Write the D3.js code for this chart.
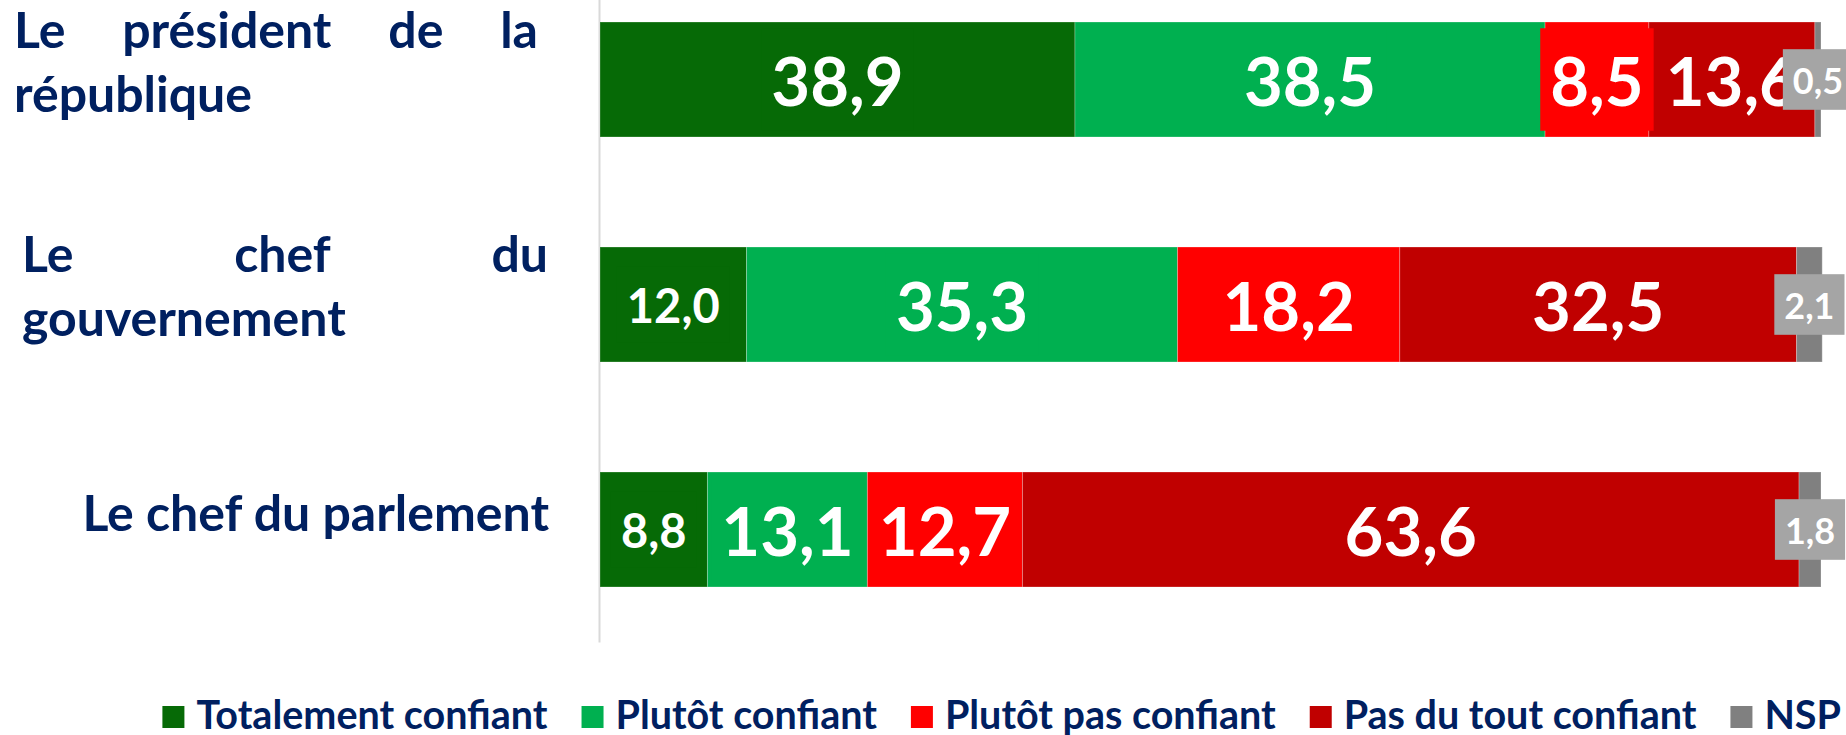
<!DOCTYPE html>
<html>
<head>
<meta charset="utf-8">
<script src="https://cdn.jsdelivr.net/npm/d3@7"></script>
<style>
  body { margin: 0; background: #fff; }
  svg { display: block; font-family: Lato, "Noto Sans", sans-serif; font-weight: bold; }
</style>
</head>
<body>
<svg id="chart" width="1846" height="735"></svg>
<script>
// data
const categories = ["Le président de la république", "Le chef du gouvernement", "Le chef du parlement"];
const seriesNames = ["Totalement confiant", "Plutôt confiant", "Plutôt pas confiant", "Pas du tout confiant", "NSP"];
const totalementConfiant = [38.9, 12.0, 8.8];
const plutotConfiant = [38.5, 35.3, 13.1];
const plutotPasConfiant = [8.5, 18.2, 12.7];
const pasDuToutConfiant = [13.6, 32.5, 63.6];
const nsp = [0.5, 2.1, 1.8];

const colors = ["#066a06", "#00b050", "#ff0000", "#c00000", "#808080"];
const navy = "#002060";

const svg = d3.select("#chart");

// build rows for d3.stack
const seriesValues = [totalementConfiant, plutotConfiant, plutotPasConfiant, pasDuToutConfiant, nsp];
const rows = categories.map((c, i) => {
  const row = { category: c };
  seriesNames.forEach((s, j) => { row[s] = seriesValues[j][i]; });
  return row;
});
const stacked = d3.stack().keys(seriesNames)(rows);

const x = d3.scaleLinear().domain([0, 100]).range([600, 1821]);
const y = d3.scaleBand()
  .domain(categories)
  .range([-33, 642])
  .paddingInner(0.489)
  .paddingOuter(0.2445);

const color = d3.scaleOrdinal().domain(seriesNames).range(colors);

// vertical category axis line
const axisG = svg.append("g")
  .attr("transform", `translate(${x(0) - 1},0)`)
  .call(d3.axisLeft(y).tickSize(0).tickFormat(""));
axisG.select(".domain").attr("stroke", "#d9d9d9").attr("stroke-width", 2);

// bar segments
svg.append("g")
  .selectAll("g")
  .data(stacked)
  .join("g")
  .attr("fill", d => color(d.key))
  .selectAll("rect")
  .data(d => d)
  .join("rect")
  .attr("x", d => x(d[0]))
  .attr("y", d => y(d.data.category))
  .attr("width", d => x(d[1]) - x(d[0]))
  .attr("height", y.bandwidth())
  .attr("stroke", "#ffffff")
  .attr("stroke-opacity", 0.25)
  .attr("stroke-width", 1);

// value labels (boxed, same colour as the segment)
const fmt = v => d3.format(".1f")(v).replace(".", ",");
const labelSize = (j, i) => (j === 4 ? 36 : (j === 0 && i > 0 ? 47 : 67));

const labelsG = svg.append("g");
categories.forEach((cat, i) => {
  stacked.forEach((layer, j) => {
    const d = layer[i];
    const fs = labelSize(j, i);
    const cx = (x(d[0]) + x(d[1])) / 2;
    const cy = y(cat) + y.bandwidth() / 2;
    const g = labelsG.append("g");
    const box = g.append("rect").attr("fill", j === 4 ? "#a5a5a5" : colors[j]);
    const t = g.append("text")
      .attr("x", cx)
      .attr("y", cy + fs * 0.36 + 2)
      .attr("text-anchor", "middle")
      .attr("fill", "#ffffff")
      .attr("font-size", fs + "px")
      .text(fmt(d[1] - d[0]));
    const tw = t.node().getComputedTextLength();
    const bh = fs * 1.35 + 12;
    box.attr("x", cx - tw / 2 - 10)
      .attr("y", cy - bh / 2)
      .attr("width", tw + 20)
      .attr("height", bh);
  });
});

// category labels, justified like the original text boxes
const catFont = 50;
const lineHeight = 64;
const catLayout = [
  { left: 14, right: 538, align: "justify", first: -32 },
  { left: 22, right: 548, align: "justify", first: -33 },
  { left: 22, right: 549, align: "right", first: 1 }
];

const measurer = svg.append("text").attr("font-size", catFont + "px");
const measure = s => measurer.text(s).node().getComputedTextLength();

const catG = svg.append("g").attr("fill", navy).attr("font-size", catFont + "px");
categories.forEach((cat, i) => {
  const lay = catLayout[i];
  const maxW = lay.right - lay.left;
  const words = cat.split(" ");
  const lines = [];
  let cur = [];
  words.forEach(w => {
    const test = cur.concat([w]).join(" ");
    if (cur.length && measure(test) > maxW) {
      lines.push(cur);
      cur = [w];
    } else {
      cur.push(w);
    }
  });
  lines.push(cur);

  const cy = y(cat) + y.bandwidth() / 2;
  lines.forEach((ws, li) => {
    const by = cy + lay.first + li * lineHeight;
    const last = li === lines.length - 1;
    if (lay.align === "justify" && !last && ws.length > 1) {
      const widths = ws.map(measure);
      const gap = (maxW - d3.sum(widths)) / (ws.length - 1);
      let cx = lay.left;
      ws.forEach((w, k) => {
        catG.append("text").attr("x", cx).attr("y", by).text(w);
        cx += widths[k] + gap;
      });
    } else if (lay.align === "right") {
      catG.append("text").attr("x", lay.right).attr("y", by)
        .attr("text-anchor", "end").text(ws.join(" "));
    } else {
      catG.append("text").attr("x", lay.left).attr("y", by).text(ws.join(" "));
    }
  });
});
measurer.remove();

// legend, right edge lined up with the end of "NSP" in the original
const legendFont = 39.5;
const sq = 22;
const legendRight = 1841;
const legendG = svg.append("g").attr("font-size", legendFont + "px");
const items = legendG.selectAll("g")
  .data(seriesNames)
  .join("g");
items.append("rect")
  .attr("width", sq)
  .attr("height", sq)
  .attr("y", 706)
  .attr("fill", d => color(d));
items.append("text")
  .attr("x", sq + 12)
  .attr("y", 729)
  .attr("fill", navy)
  .text(d => d);

let lx = 0;
const offsets = [];
items.each(function () {
  const tw = d3.select(this).select("text").node().getComputedTextLength();
  offsets.push(lx);
  lx += sq + 12 + tw + 34;
});
const totalW = lx - 34;
const startX = legendRight - totalW;
items.attr("transform", (d, i) => `translate(${startX + offsets[i]},0)`);
</script>
</body>
</html>
